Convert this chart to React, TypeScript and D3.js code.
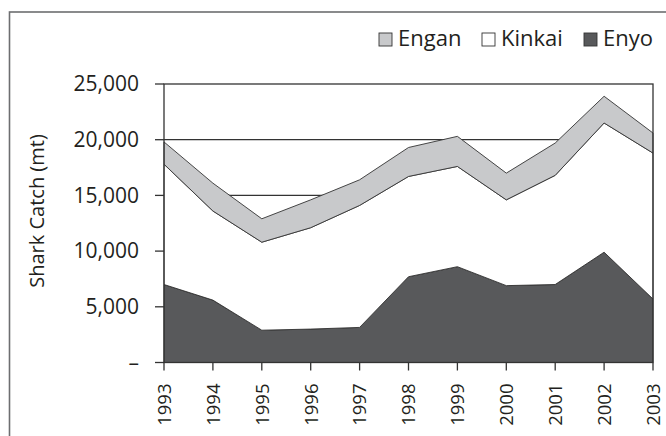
import React from "react";
import * as d3 from "d3";

const years = [1993, 1994, 1995, 1996, 1997, 1998, 1999, 2000, 2001, 2002, 2003];
const enyo = [7000, 5600, 2900, 3000, 3150, 7700, 8600, 6900, 7000, 9900, 5700];
const kinkai = [10800, 8000, 7900, 9100, 10950, 9000, 9000, 7700, 9800, 11600, 13100];
const engan = [2000, 2500, 2100, 2500, 2300, 2600, 2700, 2400, 2900, 2400, 1800];
const yTicks = [0, 5000, 10000, 15000, 20000, 25000];
const seriesNames = ["Enyo", "Kinkai", "Engan"];
const legendNames = ["Engan", "Kinkai", "Enyo"];

const W = 666, H = 436;
const left = 164, right = 653, top = 84, bottom = 362.5;
const colors: Record<string, string> = { Enyo: "#58595b", Kinkai: "#ffffff", Engan: "#c8c9cb" };
const font = "'Open Sans', sans-serif";
const ink = "#231f20";

export default function App() {
  const x = d3.scaleLinear().domain([1993, 2003]).range([left, right]);
  const y = d3.scaleLinear().domain([0, 25000]).range([bottom, top]);
  const rows = years.map((yr, i) => ({ year: yr, Enyo: enyo[i], Kinkai: kinkai[i], Engan: engan[i] }));
  const stack = d3.stack<any>().keys(seriesNames)(rows);
  const area = d3.area<any>().x((d) => x(d.data.year)).y0((d) => y(d[0])).y1((d) => y(d[1]));
  const fmt = d3.format(",");
  const legendX = [379, 482, 584];

  return (
    <svg width={W} height={H} style={{ position: "absolute", left: 0, top: 0, background: "#fff" }}>
      <rect x={9.5} y={12} width={W + 10} height={H + 10} fill="#fff" stroke="#6d6e70" strokeWidth={1.6} />
      {yTicks.filter((t) => t > 0 && t < 25000).map((t) => (
        <line key={t} x1={left} x2={right} y1={y(t)} y2={y(t)} stroke="#333" strokeWidth={1.3} />
      ))}
      {stack.map((s) => (
        <path key={s.key} d={area(s) || ""} fill={colors[s.key]} stroke="#333" strokeWidth={0.9} strokeLinejoin="miter" />
      ))}
      <rect x={left} y={top} width={right - left} height={bottom - top} fill="none" stroke="#333" strokeWidth={1.3} />
      {yTicks.map((t) => (
        <g key={t}>
          <line x1={155} x2={left} y1={y(t)} y2={y(t)} stroke="#333" strokeWidth={1.3} />
          <text x={139} y={y(t)} dy="0.35em" textAnchor="end" fontFamily={font} fontSize={21} fill={ink}>
            {t === 0 ? "–" : fmt(t)}
          </text>
        </g>
      ))}
      {years.map((yr) => (
        <g key={yr}>
          <line x1={x(yr)} x2={x(yr)} y1={bottom} y2={bottom + 8} stroke="#333" strokeWidth={1.3} />
          <text
            transform={`translate(${x(yr) + 6.8},${bottom + 21}) rotate(-90)`}
            textAnchor="end"
            fontFamily={font}
            fontSize={18.5}
            fill={ink}
          >
            {yr}
          </text>
        </g>
      ))}
      <text transform={`translate(43.5,211) rotate(-90)`} textAnchor="middle" fontFamily={font} fontSize={20} fill={ink}>
        Shark Catch (mt)
      </text>
      {legendNames.map((n, i) => (
        <g key={n}>
          <rect x={legendX[i]} y={33} width={13} height={13} fill={colors[n]} stroke="#333" strokeWidth={0.9} />
          <text x={legendX[i] + 19} y={46} fontFamily={font} fontSize={22} fill={ink}>
            {n}
          </text>
        </g>
      ))}
    </svg>
  );
}
